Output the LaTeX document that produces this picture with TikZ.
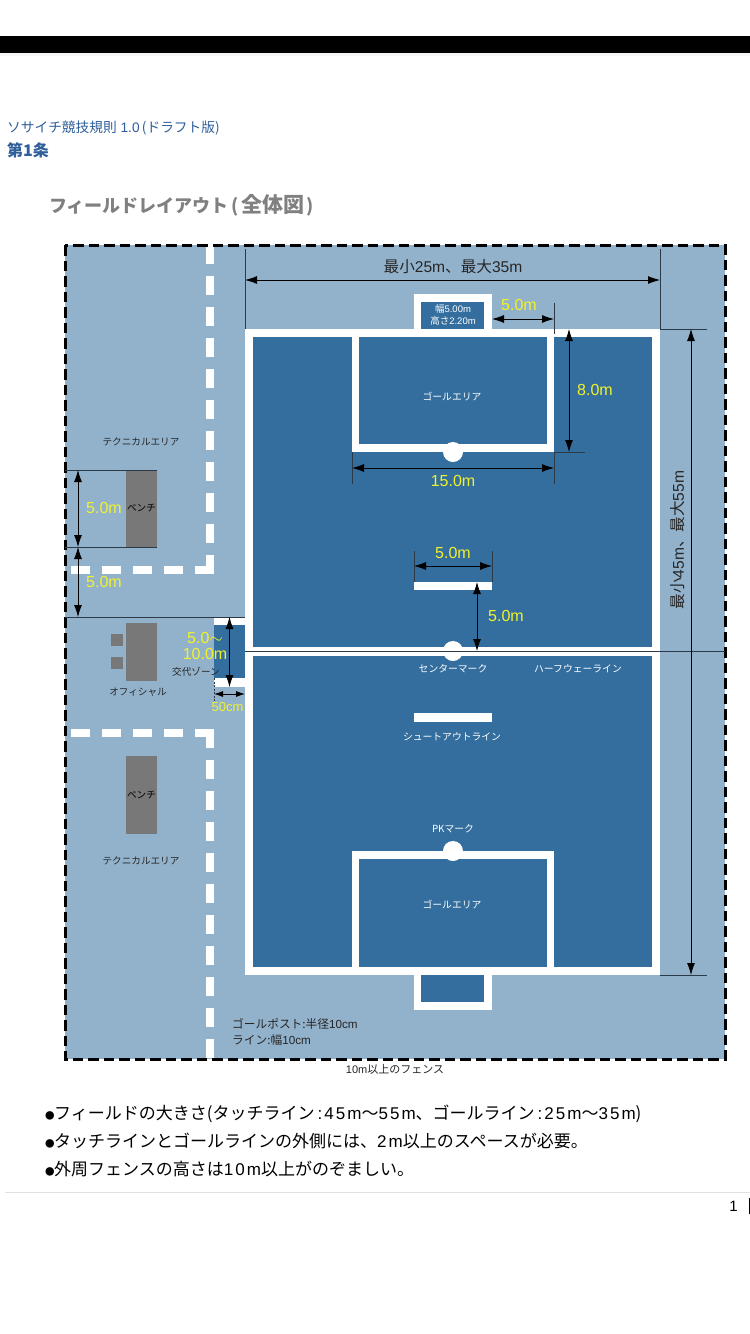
\documentclass[tikz,border=0pt]{standalone}
\usepackage{fontspec}
\setmainfont{Liberation Sans}
\newfontfamily\jp{Noto Sans CJK JP}
\newfontfamily\lat[LetterSpace=12]{Liberation Sans}
\usetikzlibrary{arrows.meta}
\definecolor{OuterColor}{HTML}{92B2CC}
\definecolor{FieldColor}{HTML}{336E9E}
\definecolor{BenchColor}{HTML}{787878}
\definecolor{ExtColor}{HTML}{2C3A48}
\definecolor{NoteYellow}{HTML}{F2F22A}
\definecolor{HeadColor}{HTML}{2F5F9A}
\definecolor{TitleColor}{HTML}{808080}
\def\Dot{{\fontsize{9.5}{10}\selectfont ●}}

\begin{document}
\begin{tikzpicture}[x=1pt,y=-1pt]
\tikzstyle{connector} = [draw=black, line width=0.8pt, {Latex[length=12pt,width=8pt]}-{Latex[length=12pt,width=8pt]}]
\tikzstyle{extent} = [draw=ExtColor, line width=0.8pt]
\tikzstyle{chalk} = [draw=white, line width=8pt, dash pattern=on 19pt off 12pt]
\tikzstyle{bench} = [rectangle, fill=BenchColor, minimum width=31pt, inner sep=0pt, text=black, font=\jp\fontsize{9.6}{12}\selectfont]
\tikzstyle{stool} = [rectangle, fill=BenchColor, minimum width=12pt, minimum height=12pt, inner sep=0pt]
\tikzstyle{dim} = [text=NoteYellow, inner sep=0pt, font=\fontsize{16}{18}\selectfont]
\tikzstyle{dark} = [text=black!85, inner sep=0pt, font=\jp\fontsize{9.6}{12}\selectfont]
\tikzstyle{pale} = [text=white, inner sep=0pt, font=\jp\fontsize{9.8}{12}\selectfont]
\tikzstyle{spot} = [circle, fill=white, minimum size=20pt, inner sep=0pt]
\tikzstyle{bullet} = [anchor=west, inner sep=0pt, font=\jp\fontsize{17}{18}\selectfont]

\useasboundingbox (0,0) rectangle (750,1334);
\fill [white] (0,0) rectangle (750,1334);

% page head
\fill [black!4] (0,53) rectangle (750,56);
\fill [black] (0,36) rectangle (750,53);
\node [anchor=west, inner sep=0pt, text=HeadColor, font=\fontsize{13.7}{16}\selectfont] at (7,128) (rulebook) {{\jp ソサイチ競技規則} 1.0{\jp\,(ドラフト版)\,}};
\node [anchor=west, inner sep=0pt, text=HeadColor, font=\jp\bfseries\fontsize{16}{18}\selectfont] at (7,150) (article) {第1条};
\node [anchor=west, inner sep=0pt, text=TitleColor, font=\jp\bfseries\fontsize{18}{21}\selectfont] at (49,205) (title) {フィールドレイアウト\kern3pt(\kern2pt{\fontsize{21}{21}\selectfont 全体図}\kern2pt)};

% ground
\fill [OuterColor] (65,245) rectangle (725,1059);
\draw [chalk] (210,245) -- (210,574);
\draw [chalk] (214,570) -- (70,570);
\draw [chalk] (214,733) -- (70,733);
\draw [chalk] (210,729) -- (210,1059);

% field
\fill [white] (245,329) rectangle (660,975);
\fill [FieldColor] (253,337) rectangle (652,647);
\fill [FieldColor] (253,656) rectangle (652,967);
\fill [white] (352,337) rectangle (554,452);
\fill [FieldColor] (359,337) rectangle (547,444);
\fill [white] (352,851) rectangle (554,967);
\fill [FieldColor] (359,859) rectangle (547,967);
\fill [white] (414,294) rectangle (492,329);
\fill [FieldColor] (421,302) rectangle (484,329);
\fill [white] (414,975) rectangle (492,1010);
\fill [FieldColor] (421,975) rectangle (484,1002);
\fill [white] (414,582) rectangle (492,590);
\fill [white] (414,713) rectangle (492,722);
\fill [white] (214,617) rectangle (245,687);
\fill [FieldColor] (214,625) rectangle (245,678);

\node [spot] at (453,452) (goalmarkA) {};
\node [spot] at (453,651) (centermark) {};
\node [spot] at (453,851) (pkmark) {};

% benches
\node [bench, minimum height=77pt] at (141.5,508.5) (benchA) {ベンチ};
\node [bench, minimum height=58pt] at (141.5,652) (office) {};
\node [bench, minimum height=78pt] at (141.5,795) (benchB) {ベンチ};
\node [stool] at (117,640) (stoolA) {};
\node [stool] at (117,663) (stoolB) {};

\draw [black, line width=3pt, dash pattern=on 10.5pt off 5pt] (65,245) rectangle (725,1059);

% end points
\coordinate (wA) at (245,280);
\coordinate (wB) at (660,280);
\coordinate (gA) at (492,319);
\coordinate (gB) at (554,319);
\coordinate (dA) at (569,329);
\coordinate (dB) at (569,452);
\coordinate (fA) at (352,468);
\coordinate (fB) at (554,468);
\coordinate (hA) at (691,329);
\coordinate (hB) at (691,975);
\coordinate (sA) at (414,566);
\coordinate (sB) at (492,566);
\coordinate (cA) at (477,582);
\coordinate (cB) at (477,651);
\coordinate (lA) at (78,470);
\coordinate (lB) at (78,547);
\coordinate (lC) at (78,617);
\coordinate (xA) at (229.5,617);
\coordinate (xB) at (229.5,687);
\coordinate (yA) at (214,694);
\coordinate (yB) at (245,694);

\path [extent] (245,249) -- (245,329);
\path [extent] (660,249) -- (660,329);
\path [extent] (660,329) -- (707,329);
\path [extent] (660,975) -- (707,975);
\path [extent] (554,303) -- (554,334);
\path [extent] (554,452) -- (585,452);
\path [extent] (554,452) -- (554,484);
\path [extent] (352,452) -- (352,484);
\path [extent] (414,551) -- (414,582);
\path [extent] (492,551) -- (492,582);
\path [extent] (245,651) -- (725,651);
\path [extent] (65,470) -- (157,470);
\path [extent] (65,547) -- (157,547);
\path [extent] (65,617) -- (245,617);
\path [extent, dashed, dash pattern=on 2pt off 1.5pt] (214,678) -- (214,701);

\path [connector] (wA) -- (wB);
\path [connector] (gA) -- (gB);
\path [connector] (dA) -- (dB);
\path [connector] (fA) -- (fB);
\path [connector] (hA) -- (hB);
\path [connector] (sA) -- (sB);
\path [connector] (cA) -- (cB);
\path [connector] (lA) -- (lB);
\path [connector] (lB) -- (lC);
\path [connector] (xA) -- (xB);
\path [connector, {Latex[length=9pt,width=6pt]}-{Latex[length=9pt,width=6pt]}] (yA) -- (yB);

% measures
\node [dark, font=\fontsize{15.6}{18}\selectfont] at (453,267) (widthnote) {{\jp 最小}25m{\jp 、最大}35m};
\node [dark, font=\fontsize{15.6}{18}\selectfont, rotate=90] at (678,540) (heightnote) {{\jp 最小}45m{\jp 、最大}55m};
\node [dim] at (519,305) (goalgap) {5.0m};
\node [dim] at (595,390) (areadepth) {8.0m};
\node [dim] at (453,481) (areawidth) {15.0m};
\node [dim] at (453,553) (shootwidth) {5.0m};
\node [dim] at (506,616) (shootgap) {5.0m};
\node [dim] at (104,508) (benchlen) {5.0m};
\node [dim] at (104,582) (benchgap) {5.0m};
\node [dim, align=center, font=\fontsize{16}{16.5}\selectfont] at (205,646) (zonelen) {5.0$\sim$\\10.0m};
\node [dim, font=\fontsize{13}{15}\selectfont] at (227.5,707) (zonewidth) {50cm};

% names
\node [pale, font=\fontsize{9.5}{12}\selectfont, align=center] at (453,315) (goalsize) {{\jp 幅}5.00m\\{\jp 高さ}2.20m};
\node [pale] at (452,397) (areaA) {ゴールエリア};
\node [pale] at (452,905) (areaB) {ゴールエリア};
\node [pale] at (453,669) (centername) {センターマーク};
\node [pale] at (578,669) (halfway) {ハーフウェーライン};
\node [pale] at (452,737) (shootout) {シュートアウトライン};
\node [pale] at (453,829) (pkname) {PKマーク};
\node [dark] at (141,442) (techA) {テクニカルエリア};
\node [dark] at (141,861) (techB) {テクニカルエリア};
\node [dark] at (138,692) (official) {オフィシャル};
\node [dark] at (196,672) (zonename) {交代ゾーン};
\node [dark, anchor=west, font=\fontsize{11.7}{14}\selectfont] at (232,1024) (postnote) {{\jp ゴールポスト:半径}10cm};
\node [dark, anchor=west, font=\fontsize{11.7}{14}\selectfont] at (232,1040) (linenote) {{\jp ライン:幅}10cm};
\node [dark, font=\fontsize{11}{13}\selectfont] at (395,1069) (fencenote) {10m{\jp 以上のフェンス}};

% notes
\node [bullet] at (45,1114) (noteA) {\Dot\kern-.5pt フィールドの大きさ(タッチライン{\lat\kern3pt:45m}〜{\lat 55m}、ゴールライン{\lat\kern3pt:25m}〜{\lat 35m})};
\node [bullet] at (45,1141) (noteB) {\Dot\kern-.5pt タッチラインとゴールラインの外側には、{\lat 2m}以上のスペースが必要。};
\node [bullet] at (45,1169) (noteC) {\Dot\kern-.5pt 外周フェンスの高さは{\lat 10m}以上がのぞましい。};

% page foot
\fill [black!12] (5,1192) rectangle (750,1193);
\node [anchor=east, inner sep=0pt, font=\fontsize{15}{17}\selectfont] at (738,1206) (pagenum) {1};
\fill [black] (748.5,1198) rectangle (750,1214);
\end{tikzpicture}
\end{document}
